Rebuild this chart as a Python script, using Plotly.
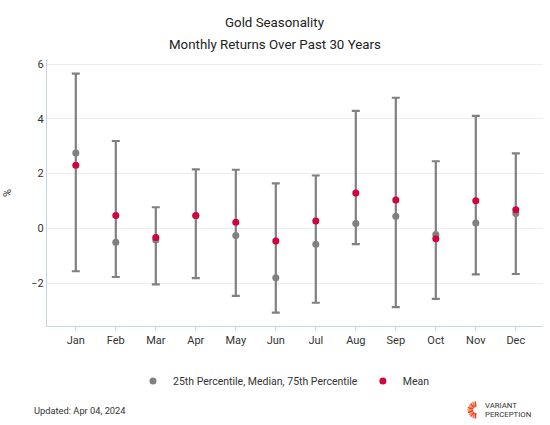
import plotly.graph_objects as go
import math

months = ["Jan", "Feb", "Mar", "Apr", "May", "Jun", "Jul", "Aug", "Sep", "Oct", "Nov", "Dec"]
p75 = [5.65, 3.19, 0.77, 2.15, 2.14, 1.64, 1.93, 4.29, 4.77, 2.45, 4.11, 2.74]
median = [2.75, -0.51, -0.43, 0.46, -0.26, -1.81, -0.58, 0.18, 0.44, -0.23, 0.19, 0.54]
p25 = [-1.57, -1.78, -2.05, -1.82, -2.47, -3.08, -2.72, -0.58, -2.88, -2.58, -1.68, -1.67]
mean = [2.30, 0.47, -0.34, 0.47, 0.22, -0.46, 0.27, 1.29, 1.03, -0.38, 1.01, 0.68]

GREY = "#808080"
RED = "#d0043c"
FONT = "Roboto"

# plot area in pixels: x 47..543, y 60..326
PW, PH = 496.0, 266.0

def px(x):
    return (x - 47) / PW

def py(y):
    return (326 - y) / PH

fig = go.Figure()
fig.add_trace(go.Scatter(
    x=months, y=median, mode="markers",
    name="25th Percentile, Median, 75th Percentile",
    marker=dict(color=GREY, size=7),
    error_y=dict(type="data", symmetric=False,
                 array=[a - m for a, m in zip(p75, median)],
                 arrayminus=[m - b for m, b in zip(median, p25)],
                 color=GREY, thickness=2.2, width=4),
))
fig.add_trace(go.Scatter(
    x=months, y=mean, mode="markers", name="Mean",
    marker=dict(color=RED, size=7),
))

shapes = []
# logo sunburst (decorative)
cxp, cyp = 476, 410
cols = ["#e8452c", "#f07a45", "#e63a2a", "#f39255"]
for i in range(11):
    ang = math.radians(95 + i * 17)
    r0, r1 = 3.0, 8.5
    shapes.append(dict(type="line", xref="paper", yref="paper",
                       x0=px(cxp + r0 * math.cos(ang)), y0=py(cyp - r0 * math.sin(ang)),
                       x1=px(cxp + r1 * math.cos(ang)), y1=py(cyp - r1 * math.sin(ang)),
                       line=dict(color=cols[i % 4], width=1.6)))

fig.update_layout(
    width=550, height=425,
    paper_bgcolor="white", plot_bgcolor="white",
    font=dict(family=FONT, size=11, color="#333333"),
    margin=dict(l=47, r=7, t=60, b=99, autoexpand=False),
    showlegend=True,
    legend=dict(orientation="h", x=px(284), xanchor="center", y=py(381), yanchor="middle",
                font=dict(size=10.5, color="#333333"), itemwidth=30),
    xaxis=dict(type="category", range=[-0.72, 11.68], showgrid=False,
               showline=True, linecolor="#c9d5dd", linewidth=1,
               ticks="outside", ticklen=4, tickcolor="#c9d5dd",
               tickfont=dict(size=11, color="#333333")),
    yaxis=dict(range=[-3.57, 6.15], tickvals=[-2, 0, 2, 4, 6],
               showgrid=True, gridcolor="#e9eef1", gridwidth=1,
               zeroline=True, zerolinecolor="#e9eef1", zerolinewidth=1,
               showline=True, linecolor="#c9d5dd", linewidth=1,
               ticks="", tickfont=dict(size=11, color="#333333"),
               title=dict(text="%", font=dict(size=11, color="#333333"), standoff=17)),
    shapes=shapes,
    annotations=[
        dict(text="Gold Seasonality", xref="paper", yref="paper",
             x=px(275), y=py(22), xanchor="center", yanchor="middle", showarrow=False,
             font=dict(size=13.3, color="#222222")),
        dict(text="Monthly Returns Over Past 30 Years", xref="paper", yref="paper",
             x=px(275), y=py(44), xanchor="center", yanchor="middle", showarrow=False,
             font=dict(size=13.3, color="#222222")),
        dict(text="Updated: Apr 04, 2024", xref="paper", yref="paper",
             x=px(32), y=py(410), xanchor="left", yanchor="middle", showarrow=False,
             font=dict(size=9.3, color="#333333")),
        dict(text="VARIANT", xref="paper", yref="paper", borderpad=0,
             x=px(484), y=py(405.2), xanchor="left", yanchor="middle", showarrow=False,
             font=dict(size=7.8, color="#333333")),
        dict(text="PERCEPTION", xref="paper", yref="paper", borderpad=0,
             x=px(484), y=py(414.4), xanchor="left", yanchor="middle", showarrow=False,
             font=dict(size=7.8, color="#333333")),
    ],
)
fig.write_html("out.html", config={"displayModeBar": False},
               post_script="document.body.style.margin='0';")
